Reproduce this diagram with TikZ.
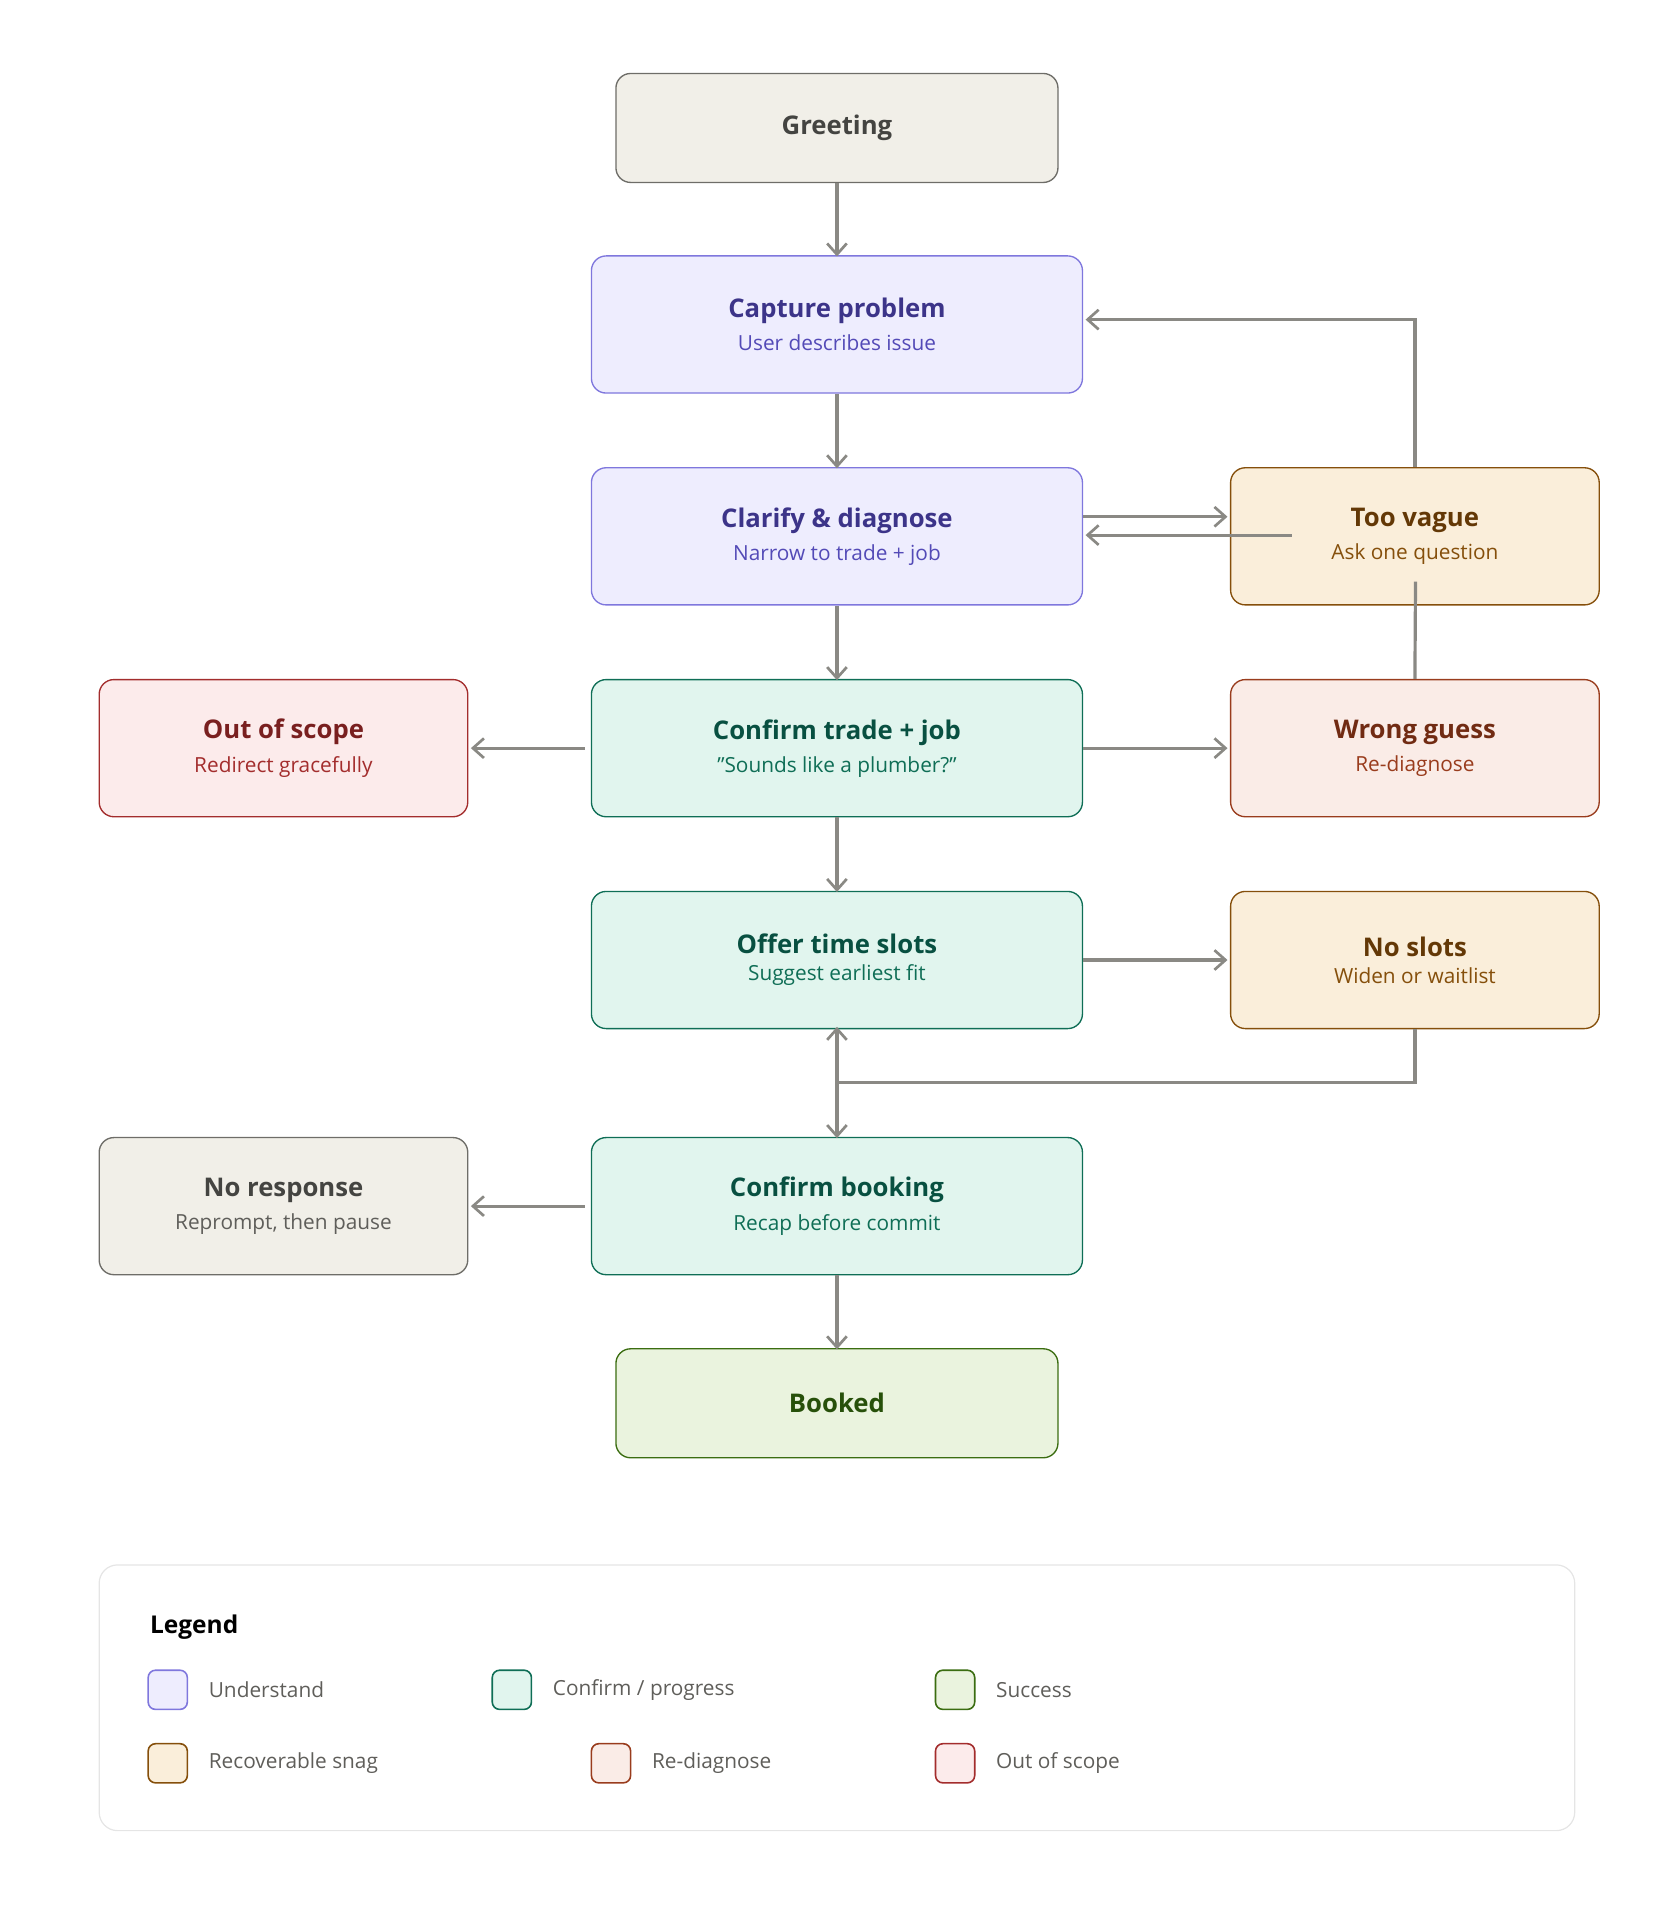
\documentclass[tikz,border=0pt]{standalone}
\usepackage{fontspec}
\setmainfont{Open Sans}
\usetikzlibrary{arrows.meta}
\definecolor{grF}{HTML}{F1EFE8}\definecolor{grB}{HTML}{6E6D68}\definecolor{grT}{HTML}{444441}\definecolor{grS}{HTML}{5F5E5A}
\definecolor{puF}{HTML}{EEEDFE}\definecolor{puB}{HTML}{7F77DD}\definecolor{puT}{HTML}{3C3489}\definecolor{puS}{HTML}{534AB7}
\definecolor{teF}{HTML}{E1F5EE}\definecolor{teB}{HTML}{0F6E56}\definecolor{teT}{HTML}{085041}\definecolor{teS}{HTML}{0F6E56}
\definecolor{gnF}{HTML}{EAF3DE}\definecolor{gnB}{HTML}{3B6D11}\definecolor{gnT}{HTML}{27500A}
\definecolor{amF}{HTML}{FAEEDA}\definecolor{amB}{HTML}{854F0B}\definecolor{amT}{HTML}{633806}\definecolor{amS}{HTML}{854F0B}
\definecolor{coF}{HTML}{FAECE7}\definecolor{coB}{HTML}{993C1D}\definecolor{coT}{HTML}{712B13}\definecolor{coS}{HTML}{993C1D}
\definecolor{reF}{HTML}{FCEBEB}\definecolor{reB}{HTML}{A32D2D}\definecolor{reT}{HTML}{791F1F}\definecolor{reS}{HTML}{A32D2D}
\definecolor{edge}{HTML}{8A8984}
\tikzset{
 box/.style={draw, rounded corners=12pt, line width=1.1pt, minimum width=401pt, minimum height=112pt, align=center, inner sep=0pt},
 sbox/.style={box, minimum width=301pt},
 wbox/.style={box, minimum width=361pt, minimum height=89pt},
 C/.style args={#1}{fill=#1F, draw=#1B},
 e/.style={draw=edge, line width=2.6pt, -{Straight Barb[length=9pt,width=16pt,line width=2.2pt]}},
 el/.style={draw=edge, line width=2.6pt},
 sw/.style={draw, rounded corners=6pt, line width=1.3pt, minimum size=32pt, inner sep=0pt},
 lt/.style={anchor=west, font=\fontsize{17}{20}\selectfont, text=grS},
}
\newcommand{\twoline}[3]{{\color{#1T}\fontsize{21}{24}\selectfont\textbf{#2}}\\[8pt]{\color{#1S}\fontsize{17}{20}\selectfont #3}}
\begin{document}
\begin{tikzpicture}[x=1pt,y=-1pt]
\useasboundingbox (0,0) rectangle (1366,1568);
\node[wbox,C=gr] (greet) at (683.5,104.5) {\color{grT}\fontsize{21}{24}\selectfont\textbf{Greeting}};
\node[box,C=pu] (cap) at (683.5,265) {\twoline{pu}{Capture problem}{User describes issue}};
\node[box,C=pu] (cla) at (683.5,438) {\twoline{pu}{Clarify \& diagnose}{Narrow to trade + job}};
\node[box,C=te] (ctr) at (683.5,611) {\twoline{te}{Confirm trade + job}{"Sounds like a plumber?"}};
\node[box,C=te] (off) at (683.5,784) {\twoline{te}{Offer time slots}{Suggest earliest fit}};
\node[box,C=te] (cbk) at (683.5,985) {\twoline{te}{Confirm booking}{Recap before commit}};
\node[wbox,C=gn] (bkd) at (683.5,1146) {\color{gnT}\fontsize{21}{24}\selectfont\textbf{Booked}};
\node[sbox,C=am] (vag) at (1155.5,438) {\twoline{am}{Too vague}{Ask one question}};
\node[sbox,C=co] (wrg) at (1155.5,611) {\twoline{co}{Wrong guess}{Re-diagnose}};
\node[sbox,C=am] (nsl) at (1155.5,784) {\twoline{am}{No slots}{Widen or waitlist}};
\node[sbox,C=re] (oos) at (231.5,611) {\twoline{re}{Out of scope}{Redirect gracefully}};
\node[sbox,C=gr] (nrs) at (231.5,985) {\twoline{gr}{No response}{Reprompt, then pause}};
\coordinate (vin) at (1055,437);
\coordinate (win) at (1156,475);
\coordinate (join) at (683.5,884);
% edges
\draw[e] (greet.south) -- ([yshift=-1pt]cap.north);
\draw[e] (cap.south) -- ([yshift=-1pt]cla.north);
\draw[e] (cla.east|-0,422) -- ([xshift=-2pt]vag.west|-0,422);
\draw[e] (vin) -- ([xshift=2pt]cla.east|-vin);
\draw[e] (vag.north) |- ([xshift=2pt]cap.east|-0,261);
\draw[el] (wrg.north) -- (win);
\draw[e] (cla.south) -- ([yshift=-1pt]ctr.north);
\draw[e] ([xshift=-5pt]ctr.west) -- ([xshift=2pt]oos.east);
\draw[e] (ctr.east) -- ([xshift=-2pt]wrg.west);
\draw[e] (ctr.south) -- ([yshift=-1pt]off.north);
\draw[e] (off.east) -- ([xshift=-2pt]nsl.west);
\draw[el] (nsl.south) |- (join);
\draw[e] (join) -- ([yshift=2pt]off.south);
\draw[e] (off.south) -- ([yshift=-1pt]cbk.north);
\draw[e] ([xshift=-5pt]cbk.west) -- ([xshift=2pt]nrs.east);
\draw[e] (cbk.south) -- ([yshift=-1pt]bkd.north);
% legend
\node[draw=black!10, line width=1pt, rounded corners=15pt, minimum width=1205pt, minimum height=217pt, inner sep=0pt] (leg) at (683.5,1386.5) {};
\node[anchor=west, font=\fontsize{20}{24}\selectfont\bfseries] (lgt) at (119,1329) {Legend};
\node[sw,C=pu] (s1) at (137,1380) {}; \node[lt] (l1) at (167,1380) {Understand};
\node[sw,C=te] (s2) at (418,1380) {}; \node[lt] (l2) at (448,1380) {Confirm / progress};
\node[sw,C=gn] (s3) at (780,1380) {}; \node[lt] (l3) at (810,1380) {Success};
\node[sw,C=am] (s4) at (137,1440) {}; \node[lt] (l4) at (167,1440) {Recoverable snag};
\node[sw,C=co] (s5) at (499,1440) {}; \node[lt] (l5) at (529,1440) {Re-diagnose};
\node[sw,C=re] (s6) at (780,1440) {}; \node[lt] (l6) at (810,1440) {Out of scope};
\end{tikzpicture}
\end{document}
